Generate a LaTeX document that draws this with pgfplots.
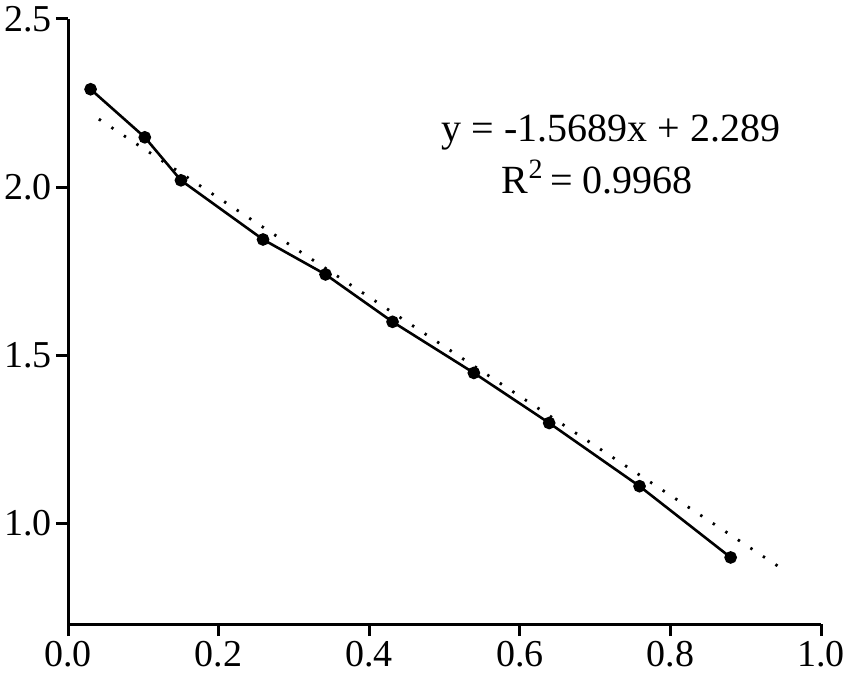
\documentclass[border=0pt]{standalone}
\usepackage{fontspec}
\setmainfont{Liberation Serif}
\usepackage{pgfplots}
\pgfplotsset{compat=1.18}
\begin{document}
\begin{tikzpicture}
\begin{axis}[
  scale only axis, width=376.5pt, height=302.5pt,
  xmin=0, xmax=1.0, ymin=0.7, ymax=2.5,
  axis x line*=bottom, axis y line*=left,
  axis line style={line width=1.5pt, -},
  xtick={0,0.2,0.4,0.6,0.8,1.0},
  ytick={1.0,1.5,2.0,2.5},
  tick style={line width=1.5pt, black},
  tick align=outside, major tick length=6pt,
  ticklabel style={font=\fontsize{19}{19}\selectfont},
  /pgf/number format/assume math mode=true,
  /pgf/number format/.cd, fixed, fixed zerofill, precision=1,
  /pgfplots/.cd,
  xticklabel style={yshift=1pt},
  yticklabel style={xshift=1.5pt},
  clip=false,
]
\addplot[black, line width=1.3pt, mark=*, mark size=2.5pt] coordinates {
 (0.030,2.291) (0.102,2.148) (0.150,2.020) (0.259,1.844) (0.342,1.740)
 (0.431,1.599) (0.539,1.447) (0.639,1.298) (0.759,1.110) (0.880,0.898)
};
\addplot[black, line width=1.4pt, dash pattern=on 1.2pt off 6.3pt] coordinates {
 (0.041,2.202) (0.945,0.869)
};
\node[font=\fontsize{20}{20}\selectfont] at (axis cs:0.721,2.161) {y = -1.5689x + 2.289};
\node[font=\fontsize{20}{20}\selectfont] at (axis cs:0.703,2.030) {R\textsuperscript{2}\,= 0.9968};
\end{axis}
\pgfresetboundingbox
\path[use as bounding box] (-34pt,-25.5pt) rectangle (391.5pt,312pt);
\end{tikzpicture}
\end{document}
